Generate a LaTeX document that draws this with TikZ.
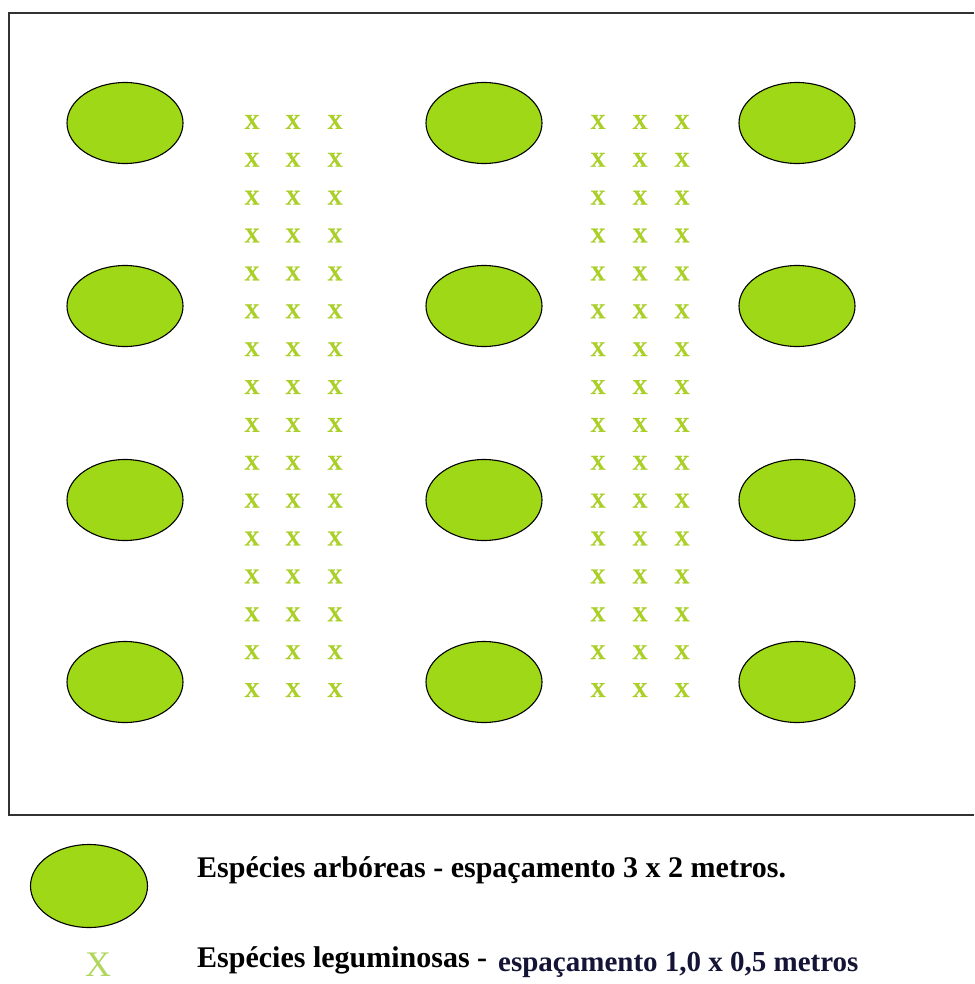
\documentclass[tikz,border=0pt]{standalone}
\usepackage{fontspec}
\setmainfont{Liberation Serif}
\usetikzlibrary{shapes.geometric}
\definecolor{treegreen}{RGB}{158,216,22}
\definecolor{xgreen}{RGB}{170,208,40}
\definecolor{legxgreen}{RGB}{176,214,96}
\definecolor{framegray}{RGB}{50,50,50}
\definecolor{navytext}{RGB}{20,20,55}
\begin{document}
\begin{tikzpicture}[x=1pt,y=-1pt,
  tree/.style={ellipse, draw=black, line width=1.1pt, fill=treegreen,
    minimum width=116pt, minimum height=81pt, inner sep=0pt},
  legx/.style={text=xgreen, font=\bfseries\fontsize{21}{21}\selectfont\addfontfeatures{FakeBold=1.2}, inner sep=0pt},
  legtext/.style={anchor=base west, inner sep=0pt, font=\bfseries\fontsize{30}{30}\selectfont}]
\useasboundingbox (0,0) rectangle (974,984);
\fill[white] (0,0) rectangle (974,984);
\draw[line width=1.8pt, framegray] (974,13) -- (9,13) -- (9,815) -- (974,815);
% trees
\foreach \r/\yy in {1/123,2/306,3/500,4/682}{
  \foreach \c/\xx in {1/125,2/484,3/797}{
    \node[tree] (t-\r-\c) at (\xx,\yy) {};
  }
}
% leguminous rows
\foreach \i in {0,...,15}{
  \foreach \c/\xx in {1/252,2/293,3/335}{
    \node[legx] (a-\i-\c) at (\xx,122+37.87*\i) {X};
  }
  \foreach \c/\xx in {1/598,2/640,3/682}{
    \node[legx] (b-\i-\c) at (\xx,122+37.87*\i) {X};
  }
}
% legend
\node[tree, minimum width=117pt, minimum height=83pt] (legtree) at (89,886) {};
\node[text=legxgreen, font=\fontsize{36}{36}\selectfont, anchor=base, inner sep=0pt] (legx) at (98,976) {X};
\node[legtext] (leg1) at (197,877) {Espécies arbóreas - espaçamento 3 x 2 metros.};
\node[legtext] (leg2a) at (197,967) {Espécies leguminosas -};
\node[legtext, text=navytext, font=\bfseries\fontsize{29}{29}\selectfont] (leg2b) at (498,971) {espaçamento 1,0 x 0,5 metros};
\end{tikzpicture}
\end{document}
